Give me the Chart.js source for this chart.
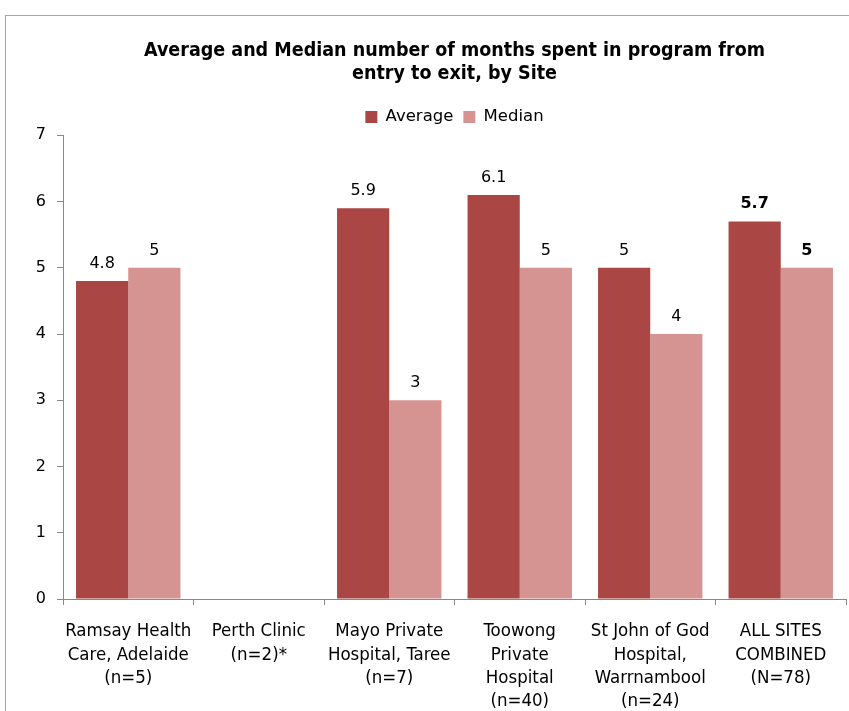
<!DOCTYPE html>
<html>
<head>
<meta charset="utf-8">
<script src="https://cdn.jsdelivr.net/npm/chart.js@4/dist/chart.umd.min.js"></script>
<style>
  html, body { margin: 0; padding: 0; background: #fff; overflow: hidden; }
  #frame { position: absolute; left: 5px; top: 15px; width: 900px; height: 800px; border: 1px solid #a6a6a6; }
  #wrap { position: absolute; left: 0; top: 0; width: 849px; height: 711px; }
</style>
</head>
<body>
<div id="frame"></div>
<div id="wrap"><canvas id="c" width="849" height="711"></canvas></div>
<script>
const categories = [
  ["Ramsay Health", "Care, Adelaide", "(n=5)"],
  ["Perth Clinic", "(n=2)*"],
  ["Mayo Private", "Hospital, Taree", "(n=7)"],
  ["Toowong", "Private", "Hospital", "(n=40)"],
  ["St John of God", "Hospital,", "Warrnambool", "(n=24)"],
  ["ALL SITES", "COMBINED", "(N=78)"]
];
const averageValues = [4.8, null, 5.9, 6.1, 5, 5.7];
const medianValues = [5, null, 3, 5, 4, 5];
const yTicks = [0, 1, 2, 3, 4, 5, 6, 7];
const titleLines = ["Average and Median number of months spent in program from", "entry to exit, by Site"];

const narrow = "'Liberation Sans Narrow', 'DejaVu Sans Condensed', sans-serif";
const dejavu = "'DejaVu Sans', sans-serif";

const valueLabels = {
  id: 'valueLabels',
  afterDatasetsDraw(chart) {
    const ctx = chart.ctx;
    ctx.save();
    ctx.fillStyle = '#000';
    ctx.textAlign = 'center';
    ctx.textBaseline = 'alphabetic';
    chart.data.datasets.forEach((ds, di) => {
      const meta = chart.getDatasetMeta(di);
      meta.data.forEach((bar, i) => {
        const v = ds.data[i];
        if (v === null || v === undefined) return;
        const last = i === categories.length - 1;
        ctx.font = (last ? 'bold ' : '') + '16px ' + dejavu;
        ctx.fillText(String(v), bar.x, bar.y - 13);
      });
    });
    ctx.restore();
  }
};

new Chart(document.getElementById('c'), {
  type: 'bar',
  data: {
    labels: categories,
    datasets: [
      { label: 'Average', data: averageValues, backgroundColor: '#AA4644', borderWidth: 0 },
      { label: 'Median', data: medianValues, backgroundColor: '#D59392', borderWidth: 0 }
    ]
  },
  options: {
    responsive: false,
    animation: false,
    devicePixelRatio: 1,
    layout: { padding: { top: 15, left: 0, right: 3, bottom: 0 } },
    datasets: { bar: { categoryPercentage: 0.8, barPercentage: 1.0 } },
    plugins: {
      title: {
        display: true,
        fullSize: false,
        text: titleLines,
        color: '#000',
        font: { family: narrow, size: 19.5, weight: 'bold', lineHeight: 1.2 },
        padding: { top: 24, bottom: 13 }
      },
      legend: {
        display: true,
        fullSize: false,
        position: 'top',
        labels: {
          color: '#000',
          font: { family: dejavu, size: 16.5 },
          boxWidth: 12,
          boxHeight: 12,
          padding: 10
        }
      },
      tooltip: { enabled: false }
    },
    scales: {
      x: {
        grid: { display: true, drawOnChartArea: false, drawTicks: true, tickLength: 6, color: '#888', offset: true },
        border: { display: true, color: '#888', width: 1 },
        ticks: {
          color: '#000',
          font: { family: narrow, size: 18.5, lineHeight: 1.25 },
          padding: 15,
          maxRotation: 0,
          autoSkip: false
        },
        afterFit(scale) { scale.height = 112; }
      },
      y: {
        min: 0,
        max: 7,
        afterBuildTicks(scale) { scale.ticks = yTicks.map(v => ({ value: v })); },
        grid: { display: true, drawOnChartArea: false, drawTicks: true, tickLength: 6, color: '#888' },
        border: { display: true, color: '#888', width: 1 },
        ticks: {
          color: '#000',
          font: { family: dejavu, size: 16 },
          padding: 11
        },
        afterFit(scale) { scale.width = 63; }
      }
    }
  },
  plugins: [valueLabels]
});
</script>
</body>
</html>
